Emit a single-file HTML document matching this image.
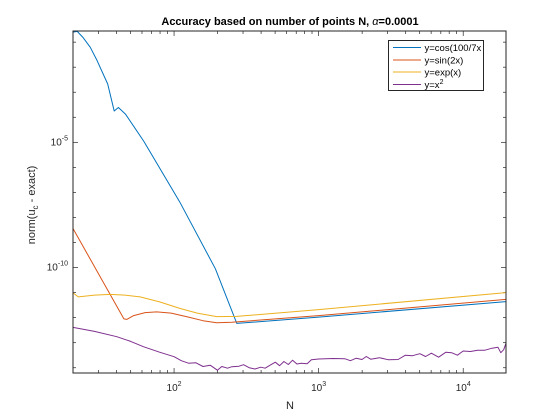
<!DOCTYPE html>
<html><head><meta charset="utf-8"><style>
html,body{margin:0;padding:0;background:#fff;width:560px;height:420px;overflow:hidden}
svg text{font-family:"Liberation Sans",Arial,sans-serif}
</style></head><body>
<svg id="chart" width="560" height="420" viewBox="0 0 560 420" xmlns="http://www.w3.org/2000/svg">
<rect x="0" y="0" width="560" height="420" fill="#fff"/>
<defs><clipPath id="plotclip"><rect x="73" y="31" width="433" height="342"/></clipPath></defs>
<text x="290" y="25" text-anchor="middle" font-size="11" font-weight="bold">Accuracy based on number of points N, <tspan font-style="italic" font-weight="normal">α</tspan>=0.0001</text>
<g id="ticks"></g>
<g id="series" clip-path="url(#plotclip)"></g>
<rect x="73" y="31" width="433" height="342" fill="none" stroke="#262626" stroke-width="1"/>
<text x="290" y="409" text-anchor="middle" font-size="11" fill="#262626">N</text>
<text transform="translate(35,205) rotate(-90)" text-anchor="middle" font-size="11" fill="#262626">norm(u<tspan font-size="8" dy="3">c</tspan><tspan dy="-3"> - exact)</tspan></text>
<g>
<rect x="388.5" y="40.5" width="95" height="50" fill="#fff" stroke="#262626" stroke-width="1"/>
<g id="legend-items"></g>
</g>
</svg>
<script>
const xDomain = [1.301, 4.296];
const yDomain = [-14.21, -0.555];
const xTickExps = [2, 3, 4];
const yTickExps = [-5, -10];
const seriesNames = ["y=cos(100/7x", "y=sin(2x)", "y=exp(x)", "y=x2"];
const seriesColors = ["#0072BD", "#D95319", "#EDB120", "#7E2F8E"];
const cosLogN = [1.301, 1.33, 1.368, 1.42, 1.467, 1.541, 1.586, 1.615, 1.665, 1.790, 2.038, 2.286, 2.434, 3.0, 4.296];
const cosLogErr = [-0.60, -0.57, -0.80, -1.20, -1.73, -2.67, -3.75, -3.61, -3.88, -4.95, -7.37, -10.05, -12.23, -11.98, -11.36];
const sinLogN = [1.301, 1.653, 1.673, 1.72, 1.80, 1.88, 1.98, 2.10, 2.20, 2.295, 2.40, 3.0, 4.296];
const sinLogErr = [-8.44, -12.05, -12.07, -11.92, -11.80, -11.77, -11.82, -11.98, -12.12, -12.20, -12.18, -11.92, -11.27];
const expLogN = [1.301, 1.338, 1.45, 1.558, 1.66, 1.765, 1.90, 2.04, 2.16, 2.295, 2.434, 3.0, 4.296];
const expLogErr = [-11.01, -11.17, -11.10, -11.07, -11.10, -11.17, -11.37, -11.63, -11.82, -11.96, -11.95, -11.68, -11.0];
const sqLogN = [1.301, 1.45, 1.604, 1.70, 1.788, 1.90, 2.00, 2.05, 2.10, 2.15, 2.20, 2.25, 2.30, 2.33, 2.37, 2.40, 2.45, 2.48, 2.52, 2.56, 2.60, 2.63, 2.67, 2.70, 2.73, 2.76, 2.79, 2.82, 2.85, 2.88, 2.92, 2.95, 3.00, 3.10, 3.18, 3.22, 3.26, 3.30, 3.33, 3.36, 3.42, 3.48, 3.55, 3.60, 3.65, 3.70, 3.74, 3.78, 3.83, 3.88, 3.92, 3.96, 4.00, 4.05, 4.10, 4.15, 4.20, 4.24, 4.26, 4.28, 4.296];
const sqLogErr = [-12.39, -12.55, -12.76, -12.95, -13.16, -13.38, -13.56, -13.72, -13.82, -13.80, -13.95, -13.90, -14.10, -13.95, -14.02, -13.96, -13.94, -13.88, -14.00, -14.05, -13.98, -14.02, -13.88, -13.78, -13.92, -13.75, -13.87, -13.70, -13.85, -13.82, -13.84, -13.68, -13.65, -13.63, -13.64, -13.72, -13.62, -13.67, -13.55, -13.66, -13.60, -13.68, -13.67, -13.50, -13.52, -13.44, -13.55, -13.42, -13.58, -13.38, -13.40, -13.50, -13.33, -13.35, -13.30, -13.30, -13.22, -13.18, -13.40, -13.28, -13.02];

const L = 73, R = 506, T = 31, B = 373;
const NS = "http://www.w3.org/2000/svg";
function xs(v){ return L + (v - xDomain[0]) / (xDomain[1] - xDomain[0]) * (R - L); }
function ys(v){ return B - (v - yDomain[0]) / (yDomain[1] - yDomain[0]) * (B - T); }
function mk(tag, attrs, parent){ const e = document.createElementNS(NS, tag); for (const k in attrs) e.setAttribute(k, attrs[k]); parent.appendChild(e); return e; }

const tg = document.getElementById('ticks');
for (let d = 1; d <= 4; d++) {
  for (let m = 1; m <= 9; m++) {
    const v = d + Math.log10(m);
    if (v < xDomain[0] || v > xDomain[1]) continue;
    const x = xs(v), len = m === 1 ? 5 : 3;
    const t1 = mk('line', {x1:x, x2:x, y1:B, y2:B-len, stroke:'#262626', 'stroke-width':0.7}, tg);
    
    
    const t2 = mk('line', {x1:x, x2:x, y1:T, y2:T+len, stroke:'#262626', 'stroke-width':0.7}, tg);
    
    
  }
}
xTickExps.forEach(e => {
  const t = mk('text', {x: xs(e), y: 391, 'text-anchor':'middle', 'font-size':10, fill:'#262626'}, tg);
  
  
  t.innerHTML = '10<tspan font-size="7" dy="-5">' + e + '</tspan>';
});
for (let d = -14; d <= -1; d++) {
  const y = ys(d), len = (d % 5 === 0) ? 5 : 3;
  const a = mk('line', {x1:L, x2:L+len, y1:y, y2:y, stroke:'#262626', 'stroke-width':0.7}, tg);
  
  
  const b = mk('line', {x1:R, x2:R-len, y1:y, y2:y, stroke:'#262626', 'stroke-width':0.7}, tg);
  
  
}
yTickExps.forEach(e => {
  const t = mk('text', {x: 68, y: ys(e) + 3, 'text-anchor':'end', 'font-size':10, fill:'#262626'}, tg);
  
  
  t.innerHTML = '10<tspan font-size="7" dy="-5">' + e + '</tspan>';
});

const sg = document.getElementById('series');
const allX = [cosLogN, sinLogN, expLogN, sqLogN];
const allY = [cosLogErr, sinLogErr, expLogErr, sqLogErr];
const keys = ['cos', 'sin', 'exp', 'square'];
allX.forEach((xa, i) => {
  const pts = xa.map((v, j) => xs(v).toFixed(1) + ',' + ys(allY[i][j]).toFixed(1)).join(' ');
  const p = mk('polyline', {points: pts, fill:'none', stroke: seriesColors[i], 'stroke-width':1, 'stroke-linejoin':'round'}, sg);
  
  
});

const lg = document.getElementById('legend-items');
const rowsY = [47.5, 60, 72, 84.5];
seriesNames.forEach((n, i) => {
  const ln = mk('line', {x1:393, x2:421, y1:rowsY[i], y2:rowsY[i], stroke: seriesColors[i], 'stroke-width':1}, lg);
  
  
  const t = mk('text', {x:424.5, y: rowsY[i] + 3.5, 'font-size':9.5, fill:'#000'}, lg);
  
  
  if (i === 3) t.innerHTML = 'y=x<tspan font-size="7" dy="-4">2</tspan>';
  else t.textContent = n;
});
</script>
</body></html>
